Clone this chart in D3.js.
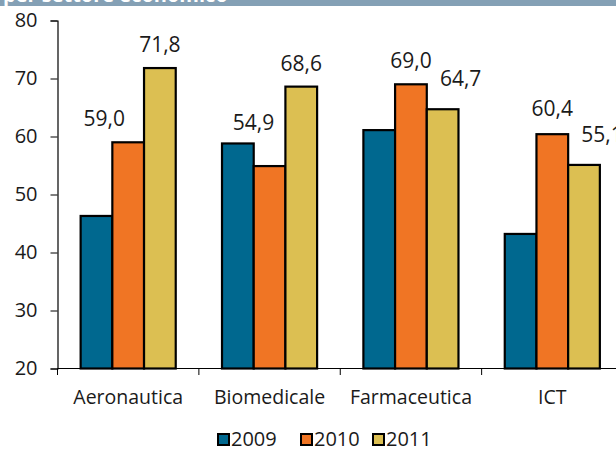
<!DOCTYPE html>
<html>
<head>
<meta charset="utf-8">
<title>Settore economico</title>
<script src="https://d3js.org/d3.v7.min.js"></script>
<style>
    html, body {
        margin: 0;
        padding: 0;
        background: white;
        overflow: hidden;
    }
    svg text {
        font-family: "Open Sans", "Noto Sans", sans-serif;
        fill: #1a1a1a;
    }
</style>
</head>
<body>
<div id="graph"></div>

<script>
    // data
    var categories = ["Aeronautica", "Biomedicale", "Farmaceutica", "ICT"];
    var years = ["2009", "2010", "2011"];
    var v2009 = [46.3, 58.8, 61.1, 43.2];
    var v2010 = [59.0, 54.9, 69.0, 60.4];
    var v2011 = [71.8, 68.6, 64.7, 55.1];
    var yTicks = [20, 30, 40, 50, 60, 70, 80];
    var colors = ["#00688f", "#f07524", "#dcbf52"];

    var series = [v2009, v2010, v2011];

    var width = 616, height = 450;

    var svg = d3.select("#graph")
        .append("svg")
            .attr("width", width)
            .attr("height", height);

    // grey-blue banner at the top (title cut off)
    svg.append("rect")
        .attr("x", 0).attr("y", 0)
        .attr("width", width).attr("height", 6)
        .attr("fill", "#84a0b5");
    svg.append("text")
        .attr("x", 3).attr("y", 2)
        .style("font-size", "20px")
        .style("font-weight", "bold")
        .style("fill", "white")
        .text("per settore economico");

    var y = d3.scaleLinear()
        .domain([20, 80])
        .range([368.5, 20.5]);

    var x = d3.scaleBand()
        .domain(categories)
        .range([57.5, 623])
        .paddingInner(0)
        .paddingOuter(0);

    var x1 = d3.scaleBand()
        .domain(years)
        .range([0, x.bandwidth()])
        .paddingInner(0)
        .paddingOuter(0.73);

    // y axis
    var yAxis = d3.axisLeft(y)
        .tickValues(yTicks)
        .tickSize(7)
        .tickPadding(13)
        .tickFormat(d3.format("d"));

    var yGroup = svg.append("g")
        .attr("transform", "translate(57.5,0)")
        .call(yAxis);
    yGroup.select(".domain").attr("stroke", "#000").attr("stroke-width", 1.2);
    yGroup.selectAll(".tick line").attr("stroke", "#000");
    yGroup.selectAll(".tick text")
        .style("font-size", "20px")
        .attr("fill", "#1a1a1a");

    // bars
    var rows = categories.map(function(c, i) {
        return { cat: c, vals: years.map(function(yr, j) { return { year: yr, j: j, v: series[j][i] }; }) };
    });

    var groups = svg.selectAll(".grp")
        .data(rows)
        .enter()
        .append("g")
            .attr("class", "grp")
            .attr("transform", function(d) { return "translate(" + x(d.cat) + ",0)"; });

    groups.selectAll("rect")
        .data(function(d) { return d.vals; })
        .enter()
        .append("rect")
            .attr("x", function(d) { return x1(d.year); })
            .attr("y", function(d) { return y(d.v); })
            .attr("width", x1.bandwidth())
            .attr("height", function(d) { return y(20) - y(d.v); })
            .attr("fill", function(d) { return colors[d.j]; })
            .attr("stroke", "#000")
            .attr("stroke-width", 2.2);

    // x axis
    var xAxis = d3.axisBottom(x).tickSize(0).tickPadding(22);
    var xGroup = svg.append("g")
        .attr("transform", "translate(0,368.5)")
        .call(xAxis);
    xGroup.select(".domain").attr("d", "M57.5,0H616").attr("stroke", "#000").attr("stroke-width", 1.2);
    xGroup.selectAll(".tick text")
        .style("font-size", "19.5px")
        .attr("fill", "#1a1a1a");

    // tick marks between categories
    var bounds = categories.map(function(c) { return x(c); });
    svg.selectAll(".sep")
        .data(bounds)
        .enter()
        .append("line")
            .attr("x1", function(d) { return d; })
            .attr("x2", function(d) { return d; })
            .attr("y1", 368.5)
            .attr("y2", 375)
            .attr("stroke", "#000");

    // value labels on 2010 and 2011 (some moved by hand in the original)
    var nudge = {
        "Aeronautica-2010": [-24, 0],
        "Biomedicale-2010": [-16, -20],
        "Farmaceutica-2011": [18, -7],
        "ICT-2010": [0, -2],
        "ICT-2011": [18, -7]
    };
    var labelData = [];
    rows.forEach(function(r) {
        r.vals.forEach(function(d) {
            if (d.j > 0) labelData.push({ cat: r.cat, year: d.year, v: d.v });
        });
    });

    svg.selectAll(".lbl")
        .data(labelData)
        .enter()
        .append("text")
            .attr("class", "lbl")
            .attr("text-anchor", "middle")
            .attr("x", function(d) {
                var n = nudge[d.cat + "-" + d.year] || [0, 0];
                return x(d.cat) + x1(d.year) + x1.bandwidth() / 2 + n[0];
            })
            .attr("y", function(d) {
                var n = nudge[d.cat + "-" + d.year] || [0, 0];
                return y(d.v) - 16 + n[1];
            })
            .style("font-size", "21px")
            .text(function(d) { return d3.format(".1f")(d.v).replace(".", ","); });

    // legend
    var legX = [217, 300, 372];
    var leg = svg.selectAll(".leg")
        .data(years)
        .enter()
        .append("g")
            .attr("class", "leg")
            .attr("transform", function(d, i) { return "translate(" + legX[i] + ",433)"; });
    leg.append("rect")
        .attr("x", 1).attr("y", 1)
        .attr("width", 11).attr("height", 11)
        .attr("fill", function(d, i) { return colors[i]; })
        .attr("stroke", "#000")
        .attr("stroke-width", 2);
    leg.append("text")
        .attr("x", 14)
        .attr("y", 13)
        .style("font-size", "20px")
        .text(function(d) { return d; });
</script>
</body>
</html>
